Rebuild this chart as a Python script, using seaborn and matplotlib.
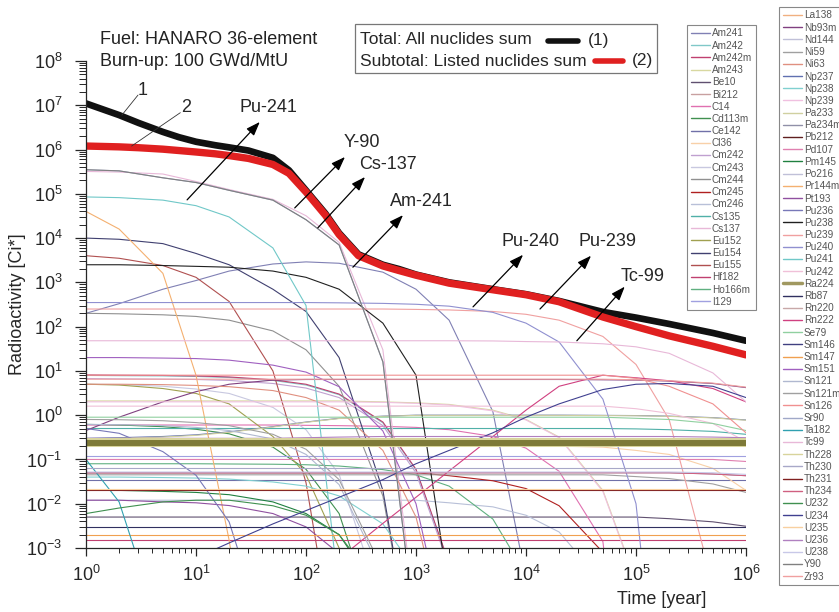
import matplotlib.pyplot as plt
from matplotlib.lines import Line2D
from matplotlib.patches import Rectangle
from matplotlib.ticker import LogLocator, NullFormatter
import numpy as np
import pandas as pd
import seaborn as sns

nil = 1e-9  # below the plotted range

years = [1, 2, 5, 10, 20, 50, 100, 200, 500, 1e3, 2e3, 5e3, 1e4, 2e4, 5e4, 1e5, 2e5, 5e5, 1e6]

# activity [Ci] at the years above
am241 = [200, 330, 700, 1100, 1800, 2600, 2900, 2700, 1700, 700, 140, 1.2, 2e-4, nil, nil, nil, nil, nil, nil]
am242 = [7.9, 7.8, 7.7, 7.5, 7.1, 6.1, 4.8, 2.9, 0.67, 0.058, 4.3e-4, nil, nil, nil, nil, nil, nil, nil, nil]
am242m = [8.1, 8.0, 7.9, 7.7, 7.3, 6.3, 5.0, 3.0, 0.7, 0.06, 4.5e-4, nil, nil, nil, nil, nil, nil, nil, nil]
am243 = [2.1, 2.1, 2.1, 2.1, 2.1, 2.1, 2.1, 2.1, 2.0, 1.9, 1.75, 1.3, 0.8, 0.32, 0.02, 1.8e-4, nil, nil, nil]
be10 = [5e-3, 5e-3, 5e-3, 5e-3, 5e-3, 5e-3, 5e-3, 5e-3, 5e-3, 5e-3, 5e-3, 5e-3, 5e-3, 5e-3, 5e-3, 5e-3, 4.6e-3, 3.9e-3, 3.1e-3]
bi212 = [0.235, 0.235, 0.235, 0.235, 0.235, 0.235, 0.235, 0.235, 0.235, 0.235, 0.235, 0.235, 0.235, 0.235, 0.235, 0.235, 0.235, 0.235, 0.235]
c14 = [0.6, 0.6, 0.6, 0.6, 0.6, 0.6, 0.59, 0.58, 0.56, 0.53, 0.47, 0.33, 0.18, 0.054, 1.4e-3, nil, nil, nil, nil]
cd113m = [0.62, 0.6, 0.55, 0.48, 0.38, 0.19, 0.06, 6e-3, 6e-6, nil, nil, nil, nil, nil, nil, nil, nil, nil, nil]
ce142 = [0.035, 0.035, 0.035, 0.035, 0.035, 0.035, 0.035, 0.035, 0.035, 0.035, 0.035, 0.035, 0.035, 0.035, 0.035, 0.035, 0.035, 0.035, 0.035]
cl36 = [0.2, 0.2, 0.2, 0.2, 0.2, 0.2, 0.2, 0.2, 0.2, 0.2, 0.2, 0.2, 0.2, 0.2, 0.19, 0.16, 0.13, 0.063, 0.02]
cm242 = [6.7, 6.6, 6.5, 6.4, 6.1, 5.2, 4.1, 2.5, 0.58, 0.05, 3.7e-4, nil, nil, nil, nil, nil, nil, nil, nil]
cm243 = [5, 4.9, 4.5, 3.9, 3.1, 1.5, 0.47, 0.046, 4.3e-5, nil, nil, nil, nil, nil, nil, nil, nil, nil, nil]
cm244 = [200, 195, 185, 170, 140, 80, 30, 4.5, 0.015, 1e-6, nil, nil, nil, nil, nil, nil, nil, nil, nil]
cm245 = [0.05, 0.05, 0.05, 0.05, 0.05, 0.05, 0.05, 0.05, 0.05, 0.05, 0.043, 0.033, 0.022, 9e-3, 8e-4, nil, nil, nil, nil]
cm246 = [0.012, 0.012, 0.012, 0.012, 0.012, 0.012, 0.012, 0.012, 0.012, 0.012, 0.0105, 0.0085, 0.0055, 2.3e-3, 1.6e-4, nil, nil, nil, nil]
cs135 = [0.5, 0.5, 0.5, 0.5, 0.5, 0.5, 0.5, 0.5, 0.5, 0.5, 0.5, 0.5, 0.5, 0.5, 0.5, 0.49, 0.47, 0.43, 0.37]
cs137 = [3.2e5, 3.1e5, 2.8e5, 1.9e5, 1.25e5, 7.5e4, 3.2e4, 8e3, 30, 2e-5, nil, nil, nil, nil, nil, nil, nil, nil, nil]
eu152 = [5, 4.8, 4.0, 3.1, 1.8, 0.33, 0.045, 1e-3, 1e-8, nil, nil, nil, nil, nil, nil, nil, nil, nil, nil]
eu154 = [1e4, 9.4e3, 7.5e3, 4.5e3, 2.5e3, 700, 220, 20, 0.02, 1e-6, nil, nil, nil, nil, nil, nil, nil, nil, nil]
eu155 = [4e3, 3.5e3, 2.4e3, 1.3e3, 370, 10, 0.03, 1e-6, nil, nil, nil, nil, nil, nil, nil, nil, nil, nil, nil]
hf182 = [1.5e-3, 1.5e-3, 1.5e-3, 1.5e-3, 1.5e-3, 1.5e-3, 1.5e-3, 1.5e-3, 1.5e-3, 1.5e-3, 1.5e-3, 1.5e-3, 1.5e-3, 1.5e-3, 1.5e-3, 1.5e-3, 1.5e-3, 1.5e-3, 1.5e-3]
ho166m = [0.08, 0.08, 0.08, 0.08, 0.079, 0.078, 0.076, 0.071, 0.059, 0.045, 0.025, 4.5e-3, 2.5e-4, nil, nil, nil, nil, nil, nil]
i129 = [0.12, 0.12, 0.12, 0.12, 0.12, 0.12, 0.12, 0.12, 0.12, 0.12, 0.12, 0.12, 0.12, 0.12, 0.12, 0.12, 0.12, 0.12, 0.12]
la138 = [4e-4, 4e-4, 4e-4, 4e-4, 4e-4, 4e-4, 4e-4, 4e-4, 4e-4, 4e-4, 4e-4, 4e-4, 4e-4, 4e-4, 4e-4, 4e-4, 4e-4, 4e-4, 4e-4]
nb93m = [0.45, 0.9, 2.0, 3.4, 5.0, 6.2, 6.4, 6.4, 6.4, 6.4, 6.4, 6.4, 6.4, 6.4, 6.3, 6.2, 5.9, 5.2, 4.2]
nd144 = [2e-4, 2e-4, 2e-4, 2e-4, 2e-4, 2e-4, 2e-4, 2e-4, 2e-4, 2e-4, 2e-4, 2e-4, 2e-4, 2e-4, 2e-4, 2e-4, 2e-4, 2e-4, 2e-4]
ni59 = [0.045, 0.045, 0.045, 0.045, 0.045, 0.045, 0.045, 0.045, 0.045, 0.045, 0.045, 0.045, 0.045, 0.045, 0.045, 0.041, 0.037, 0.028, 0.018]
ni63 = [5, 5, 4.9, 4.7, 4.4, 3.6, 2.5, 1.3, 0.16, 5e-3, 5e-6, nil, nil, nil, nil, nil, nil, nil, nil]
np237 = [0.3, 0.31, 0.33, 0.36, 0.42, 0.55, 0.7, 0.85, 0.95, 1.0, 1.0, 1.0, 1.0, 1.0, 0.99, 0.98, 0.95, 0.88, 0.78]
np238 = [0.04, 0.04, 0.039, 0.038, 0.036, 0.031, 0.025, 0.015, 3.5e-3, 3e-4, nil, nil, nil, nil, nil, nil, nil, nil, nil]
np239 = [2.0, 2.0, 2.0, 2.0, 2.0, 2.0, 2.0, 2.0, 1.95, 1.85, 1.7, 1.25, 0.78, 0.31, 0.019, 1.7e-4, nil, nil, nil]
pa233 = [0.29, 0.3, 0.32, 0.35, 0.41, 0.54, 0.69, 0.84, 0.94, 0.99, 0.99, 0.99, 0.99, 0.99, 0.98, 0.97, 0.94, 0.87, 0.77]
pa234m = [0.05, 0.05, 0.05, 0.05, 0.05, 0.05, 0.05, 0.05, 0.05, 0.05, 0.05, 0.05, 0.05, 0.05, 0.05, 0.05, 0.05, 0.047, 0.043]
pb212 = [0.24, 0.24, 0.24, 0.24, 0.24, 0.24, 0.24, 0.24, 0.24, 0.24, 0.24, 0.24, 0.24, 0.24, 0.24, 0.24, 0.24, 0.24, 0.24]
pd107 = [0.1, 0.1, 0.1, 0.1, 0.1, 0.1, 0.1, 0.1, 0.1, 0.1, 0.1, 0.1, 0.1, 0.1, 0.1, 0.1, 0.1, 0.1, 0.09]
pm145 = [0.02, 0.02, 0.019, 0.018, 0.016, 0.011, 6e-3, 2e-3, 7e-5, nil, nil, nil, nil, nil, nil, nil, nil, nil, nil]
po216 = [0.24, 0.24, 0.24, 0.24, 0.24, 0.24, 0.24, 0.24, 0.24, 0.24, 0.24, 0.24, 0.24, 0.24, 0.24, 0.24, 0.24, 0.24, 0.24]
pr144m = [4e4, 1.6e4, 1.6e3, 8, 1.5e-3, nil, nil, nil, nil, nil, nil, nil, nil, nil, nil, nil, nil, nil, nil]
pt193 = [0.012, 0.012, 0.011, 0.0105, 0.0091, 0.006, 0.003, 7.5e-4, 1e-5, nil, nil, nil, nil, nil, nil, nil, nil, nil, nil]
pu236 = [0.5, 0.39, 0.15, 0.044, 3.9e-3, 3e-6, nil, nil, nil, nil, nil, nil, nil, nil, nil, nil, nil, nil, nil]
pu238 = [2.5e3, 2.5e3, 2.4e3, 2.3e3, 2.2e3, 1.8e3, 1.3e3, 700, 120, 8, 1e-4, nil, nil, nil, nil, nil, nil, nil, nil]
pu239 = [250, 250, 250, 250, 250, 250, 250, 250, 250, 245, 238, 220, 190, 140, 60, 14, 0.8, 1.5e-4, nil]
pu240 = [350, 350, 350, 350, 350, 350, 350, 345, 335, 320, 290, 210, 120, 45, 2.3, 0.01, nil, nil, nil]
pu241 = [8.5e4, 8.2e4, 7.2e4, 5.4e4, 3.0e4, 6e3, 300, 1e-4, nil, nil, nil, nil, nil, nil, nil, nil, nil, nil, nil]
pu242 = [1.6, 1.6, 1.6, 1.6, 1.6, 1.6, 1.6, 1.6, 1.6, 1.6, 1.6, 1.6, 1.6, 1.6, 1.6, 1.4, 1.1, 0.65, 0.25]
ra224 = [0.24, 0.24, 0.24, 0.24, 0.24, 0.24, 0.24, 0.24, 0.24, 0.24, 0.24, 0.24, 0.24, 0.24, 0.24, 0.24, 0.24, 0.24, 0.24]
rb87 = [3e-3, 3e-3, 3e-3, 3e-3, 3e-3, 3e-3, 3e-3, 3e-3, 3e-3, 3e-3, 3e-3, 3e-3, 3e-3, 3e-3, 3e-3, 3e-3, 3e-3, 3e-3, 3e-3]
rn220 = [0.24, 0.24, 0.24, 0.24, 0.24, 0.24, 0.24, 0.24, 0.24, 0.24, 0.24, 0.24, 0.24, 0.24, 0.24, 0.24, 0.24, 0.24, 0.24]
rn222 = [nil, nil, nil, nil, nil, nil, 1.5e-4, 5.7e-4, 3.6e-3, 0.014, 0.055, 0.33, 1.3, 4.5, 8, 7, 6, 4, 2]
se79 = [0.9, 0.9, 0.9, 0.9, 0.9, 0.9, 0.9, 0.9, 0.9, 0.9, 0.9, 0.9, 0.9, 0.9, 0.9, 0.85, 0.8, 0.65, 0.45]
sm146 = [1e-6, 1e-6, 1e-6, 1e-6, 1e-6, 1e-6, 1e-6, 1e-6, 1e-6, 1e-6, 1e-6, 1e-6, 1e-6, 1e-6, 1e-6, 1e-6, 1e-6, 1e-6, 1e-6]
sm147 = [2e-3, 2e-3, 2e-3, 2e-3, 2e-3, 2e-3, 2e-3, 2e-3, 2e-3, 2e-3, 2e-3, 2e-3, 2e-3, 2e-3, 2e-3, 2e-3, 2e-3, 2e-3, 2e-3]
sm151 = [20, 20, 19.5, 19, 17.5, 13.5, 9.4, 4.4, 0.44, 0.01, 5e-6, nil, nil, nil, nil, nil, nil, nil, nil]
sn121 = [0.62, 0.61, 0.58, 0.53, 0.45, 0.29, 0.13, 0.027, 2.5e-4, nil, nil, nil, nil, nil, nil, nil, nil, nil, nil]
sn121m = [0.8, 0.79, 0.75, 0.68, 0.58, 0.37, 0.17, 0.035, 3.2e-4, nil, nil, nil, nil, nil, nil, nil, nil, nil, nil]
sn126 = [8, 8, 8, 8, 8, 8, 8, 8, 8, 8, 8, 8, 8, 8, 8, 6.8, 4.5, 1.8, 0.4]
sr90 = [3.5e5, 3.3e5, 2.3e5, 1.8e5, 1.2e5, 7.2e4, 2.6e4, 7e3, 16, 1e-5, nil, nil, nil, nil, nil, nil, nil, nil, nil]
ta182 = [0.1, 0.011, 1e-5, nil, nil, nil, nil, nil, nil, nil, nil, nil, nil, nil, nil, nil, nil, nil, nil]
tc99 = [48, 48, 48, 48, 48, 48, 48, 48, 48, 48, 48, 47.5, 46, 45, 41, 35, 25, 9, 2]
th228 = [0.245, 0.245, 0.245, 0.245, 0.245, 0.245, 0.245, 0.245, 0.245, 0.245, 0.245, 0.245, 0.245, 0.245, 0.245, 0.245, 0.245, 0.245, 0.245]
th230 = [0.065, 0.065, 0.065, 0.065, 0.065, 0.065, 0.065, 0.065, 0.065, 0.065, 0.065, 0.065, 0.065, 0.065, 0.065, 0.065, 0.065, 0.065, 0.065]
th231 = [0.02, 0.02, 0.02, 0.02, 0.02, 0.02, 0.02, 0.02, 0.02, 0.02, 0.02, 0.02, 0.02, 0.02, 0.02, 0.02, 0.02, 0.02, 0.02]
th234 = [0.05, 0.05, 0.05, 0.05, 0.05, 0.05, 0.05, 0.05, 0.05, 0.05, 0.05, 0.05, 0.05, 0.05, 0.05, 0.05, 0.05, 0.047, 0.043]
u232 = [6e-3, 8e-3, 0.011, 0.012, 0.012, 9e-3, 5.5e-3, 2e-3, 1e-4, nil, nil, nil, nil, nil, nil, nil, nil, nil, nil]
u234 = [1e-4, 2e-4, 5e-4, 6e-4, 1.3e-3, 3.5e-3, 7e-3, 0.014, 0.035, 0.08, 0.16, 0.4, 0.9, 1.8, 3.8, 5, 5.2, 4.5, 2.5]
u235 = [0.022, 0.022, 0.022, 0.022, 0.022, 0.022, 0.022, 0.022, 0.022, 0.022, 0.022, 0.022, 0.022, 0.022, 0.022, 0.022, 0.022, 0.022, 0.022]
u236 = [0.3, 0.3, 0.3, 0.3, 0.3, 0.3, 0.31, 0.32, 0.33, 0.33, 0.33, 0.33, 0.33, 0.33, 0.33, 0.33, 0.33, 0.32, 0.31]
u238 = [0.052, 0.052, 0.052, 0.052, 0.052, 0.052, 0.052, 0.052, 0.052, 0.052, 0.052, 0.052, 0.052, 0.052, 0.052, 0.052, 0.052, 0.05, 0.046]
y90 = [3.5e5, 3.3e5, 2.3e5, 1.8e5, 1.2e5, 7.2e4, 2.6e4, 7e3, 16, 1e-5, nil, nil, nil, nil, nil, nil, nil, nil, nil]
zr93 = [6.5, 6.5, 6.5, 6.5, 6.5, 6.5, 6.5, 6.5, 6.5, 6.5, 6.5, 6.5, 6.5, 6.5, 6.5, 6.3, 6.0, 5.3, 4.3]

# the two sums, read on a finer set of years
sum_years = [1, 2, 3, 5, 7, 10, 15, 20, 30, 50, 70, 100, 150, 200, 300, 500, 700, 1e3, 2e3, 5e3, 1e4, 2e4, 5e4, 1e5, 2e5, 5e5, 1e6]
total = [1.1e7, 6e6, 4e6, 2.5e6, 1.9e6, 1.5e6, 1.25e6, 1.12e6, 9.5e5, 6.5e5, 3.4e5, 1.2e5, 3.6e4, 1.3e4, 4.3e3, 2.5e3, 2.0e3, 1.5e3, 1.0e3, 700, 540, 380, 215, 160, 115, 72, 48]
subtotal = [1.2e6, 1.15e6, 1.1e6, 1.02e6, 9.5e5, 8.8e5, 8.0e5, 7.3e5, 6.3e5, 4.6e5, 2.9e5, 1.1e5, 3.3e4, 1.2e4, 4.0e3, 2.35e3, 1.85e3, 1.45e3, 960, 680, 525, 365, 165, 100, 62, 36, 23]

names = ['Am241', 'Am242', 'Am242m', 'Am243', 'Be10', 'Bi212', 'C14', 'Cd113m', 'Ce142', 'Cl36',
         'Cm242', 'Cm243', 'Cm244', 'Cm245', 'Cm246', 'Cs135', 'Cs137', 'Eu152', 'Eu154', 'Eu155',
         'Hf182', 'Ho166m', 'I129',
         'La138', 'Nb93m', 'Nd144', 'Ni59', 'Ni63', 'Np237', 'Np238', 'Np239', 'Pa233', 'Pa234m',
         'Pb212', 'Pd107', 'Pm145', 'Po216', 'Pr144m', 'Pt193', 'Pu236', 'Pu238', 'Pu239', 'Pu240',
         'Pu241', 'Pu242', 'Ra224', 'Rb87', 'Rn220', 'Rn222', 'Se79', 'Sm146', 'Sm147', 'Sm151',
         'Sn121', 'Sn121m', 'Sn126', 'Sr90', 'Ta182', 'Tc99', 'Th228', 'Th230', 'Th231', 'Th234',
         'U232', 'U234', 'U235', 'U236', 'U238', 'Y90', 'Zr93']
colors = ['#8080b4', '#80c8c8', '#c04070', '#d8d8a0', '#605070', '#c8a0a0', '#e070b0', '#409050', '#7070a8', '#f8d0a8',
          '#c0a0d0', '#c8c8e0', '#909090', '#b02020', '#b8c0d8', '#50b0a8', '#e8b8d8', '#a0a050', '#404070', '#b05050',
          '#c04070', '#60b080', '#a0a0e0',
          '#f0b080', '#804080', '#c0c0d8', '#a0a0a0', '#e09080', '#6070b0', '#80d0d0', '#f0c0e0', '#d0d0a0', '#9090a8',
          '#602020', '#e080b0', '#208040', '#c0c0d8', '#f4b070', '#9050a0', '#7878b8', '#202020', '#f0a0a0', '#9090d0',
          '#70c8c8', '#f0c0d8', '#a09860', '#303060', '#c8a8a8', '#d04080', '#90d0a0', '#404080', '#f0a050', '#a060c0',
          '#b0b8d0', '#a0a0a0', '#f09090', '#a0a8c8', '#30a0b0', '#e8b8d8', '#d8d49c', '#a8a8c8', '#802020', '#d06080',
          '#409050', '#404090', '#f8d0a0', '#b080c0', '#c8c8e8', '#808080', '#f0a0a0']
values = [am241, am242, am242m, am243, be10, bi212, c14, cd113m, ce142, cl36,
          cm242, cm243, cm244, cm245, cm246, cs135, cs137, eu152, eu154, eu155,
          hf182, ho166m, i129,
          la138, nb93m, nd144, ni59, ni63, np237, np238, np239, pa233, pa234m,
          pb212, pd107, pm145, po216, pr144m, pt193, pu236, pu238, pu239, pu240,
          pu241, pu242, ra224, rb87, rn220, rn222, se79, sm146, sm147, sm151,
          sn121, sn121m, sn126, sr90, ta182, tc99, th228, th230, th231, th234,
          u232, u234, u235, u236, u238, y90, zr93]

arrow_labels = ['Pu-241', 'Y-90', 'Cs-137', 'Am-241', 'Pu-240', 'Pu-239', 'Tc-99']
label_at = [(46, 8.7e6), (323, 1.48e6), (556, 4.5e5), (1110, 6.6e4), (1.1e4, 8.2e3), (5.45e4, 8.2e3), (1.16e5, 1.33e3)]
arrow_head = [(38, 4.2e6), (226, 6.8e5), (344, 2.4e5), (762, 3.3e4), (9.4e3, 4.2e3), (3.9e4, 4.0e3), (7.9e4, 800)]
arrow_tail = [(8.3, 7.3e4), (79, 4.8e4), (128, 1.7e4), (267, 2.2e3), (3.3e3, 280), (1.34e4, 250), (2.9e4, 48)]

curve_labels = ['1', '2']
curve_label_at = [(3.3, 2.2e7), (8.1, 8.7e6)]
leader_start = [(2.97, 1.7e7), (7.2, 6.8e6)]
leader_end = [(2.12, 6.0e6), (2.6, 1.2e6)]

sns.set_style('ticks')
plt.rcParams['font.family'] = ['Liberation Sans', 'DejaVu Sans']
plt.rcParams['axes.linewidth'] = 0.9

palette = dict(zip(names, colors))
df = pd.DataFrame({
    'nuclide': np.repeat(names, len(years)),
    'year': years * len(names),
    'activity': np.concatenate(values),
})
band = ['Th228', 'Ra224']
thin = df[~df['nuclide'].isin(band)]

fig = plt.figure(figsize=(8.39, 6.12), dpi=100)
ax = fig.add_axes([86 / 839, 64 / 612, 660 / 839, 487 / 612])

sns.lineplot(data=thin, x='year', y='activity', hue='nuclide', palette=palette,
             hue_order=[n for n in names if n not in band], lw=0.8,
             estimator=None, sort=False, legend=False, ax=ax)
sns.lineplot(x=years, y=th228, color=palette['Th228'], lw=6.5, ax=ax)
sns.lineplot(x=years, y=ra224, color='#7e7a38', lw=4.3, ax=ax)
sns.lineplot(x=sum_years, y=total, color='#111111', lw=4.8, ax=ax)
sns.lineplot(x=sum_years, y=subtotal, color='#e02020', lw=5.3, ax=ax)

ax.set(xscale='log', yscale='log', xlim=(1, 1e6), ylim=(1e-3, 1e8))
for axis in (ax.xaxis, ax.yaxis):
    axis.set_major_locator(LogLocator(base=10, numticks=20))
    axis.set_minor_locator(LogLocator(base=10, subs=np.arange(2, 10), numticks=200))
    axis.set_minor_formatter(NullFormatter())
sns.despine(ax=ax)
ax.tick_params(axis='y', which='major', length=8, width=0.9, pad=9, labelsize=13)
ax.tick_params(axis='y', which='minor', length=5, width=0.7)
ax.tick_params(axis='x', which='major', length=6, width=0.9, pad=6, labelsize=13)
ax.tick_params(axis='x', which='minor', length=3.5, width=0.7)

ax.set_ylabel('Radioactivity [Ci*]', fontsize=13)
ax.yaxis.set_label_coords(-0.091, 0.5)
ax.set_xlabel('Time [year]', fontsize=13)
ax.xaxis.set_label_coords(0.873, -0.088)

for text, pos, head, tail in zip(arrow_labels, label_at, arrow_head, arrow_tail):
    ax.annotate('', xy=head, xytext=tail,
                arrowprops=dict(arrowstyle='-|>,head_length=0.6,head_width=0.22',
                                color='black', lw=0.9, mutation_scale=14, shrinkA=0, shrinkB=0))
    ax.text(pos[0], pos[1], text, fontsize=13, ha='center', va='center')

for text, pos, start, end in zip(curve_labels, curve_label_at, leader_start, leader_end):
    ax.annotate('', xy=end, xytext=start,
                arrowprops=dict(arrowstyle='-', color='#333333', lw=0.6, shrinkA=0, shrinkB=0))
    ax.text(pos[0], pos[1], text, fontsize=13, ha='center', va='center')

# header text
fig.text(100 / 839, 1 - 39 / 612, 'Fuel: HANARO 36-element', fontsize=13, va='center', color='#222222')
fig.text(100 / 839, 1 - 61 / 612, 'Burn-up: 100 GWd/MtU', fontsize=13, va='center', color='#222222')

# total / subtotal key box
fig.patches.append(Rectangle((355 / 839, 1 - 73 / 612), 302 / 839, 49 / 612, transform=fig.transFigure,
                             facecolor='white', edgecolor='#777777', lw=0.9, zorder=5))
fig.text(360 / 839, 1 - 40 / 612, 'Total: All nuclides sum', fontsize=12.5, va='center', zorder=6)
fig.text(360 / 839, 1 - 61 / 612, 'Subtotal: Listed nuclides sum', fontsize=12.5, va='center', zorder=6)
fig.lines.append(Line2D([548 / 839, 578 / 839], [1 - 41 / 612, 1 - 41 / 612], transform=fig.transFigure,
                        color='#111111', lw=4, zorder=6))
fig.lines.append(Line2D([595 / 839, 623 / 839], [1 - 61 / 612, 1 - 61 / 612], transform=fig.transFigure,
                        color='#e02020', lw=4, zorder=6))
fig.text(588 / 839, 1 - 40 / 612, '(1)', fontsize=12.5, va='center', zorder=6)
fig.text(632 / 839, 1 - 61 / 612, '(2)', fontsize=12.5, va='center', zorder=6)

handles = [Line2D([], [], color=palette[n], lw=2.5 if n == 'Ra224' else 1.0) for n in names]
leg_kw = dict(loc='upper left', fontsize=7.2, handlelength=1.9, handletextpad=0.25, labelspacing=0.22,
              borderpad=0.35, borderaxespad=0, frameon=True, fancybox=False, edgecolor='#888888',
              framealpha=1, labelcolor='#555555')
leg_a = fig.legend(handles[:23], names[:23], bbox_to_anchor=(687 / 839, 1 - 25 / 612), **leg_kw)
leg_a.get_frame().set_linewidth(0.8)
leg_b = fig.legend(handles[23:], names[23:], bbox_to_anchor=(779 / 839, 1 - 7 / 612), **leg_kw)
leg_b.get_frame().set_linewidth(0.8)

fig.savefig('out.png', dpi=100)
